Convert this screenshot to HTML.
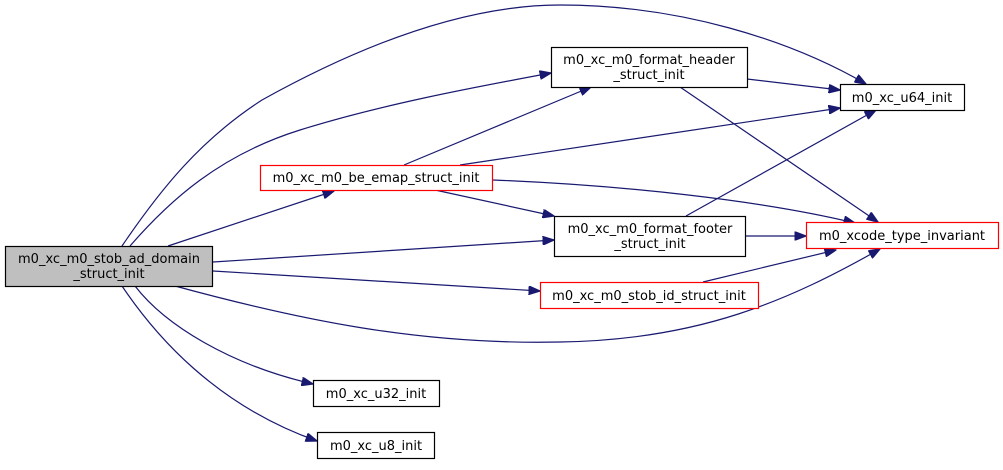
<!DOCTYPE html>
<html><head><meta charset="utf-8"><style>
body{margin:0;background:#fff;}
svg text{font-family:"DejaVu Sans","Liberation Sans",sans-serif;font-size:13px;fill:#000;}
</style></head><body>
<svg width="1003" height="465" viewBox="0 0 1003 465" xmlns="http://www.w3.org/2000/svg">
<defs>
<marker id="a" markerWidth="12" markerHeight="9" refX="11.5" refY="4.5" orient="auto" markerUnits="userSpaceOnUse">
<path d="M0,0 L12,4.5 L0,9 Z" fill="#191970" stroke="#191970"/>
</marker>
</defs>
<g fill="none" stroke="#191970" stroke-width="1.2" marker-end="url(#a)">
<path d="M122,246 C160,190 200,140 262,100 C370,40 470,5 560,5 C680,5 790,40 866,84"/>
<path d="M130,246 C170,200 220,155 300,130 C380,105 470,88 551,73"/>
<path d="M168,246 L334,191"/>
<path d="M213,262 L554,240"/>
<path d="M213,271 L540,291"/>
<path d="M175,286 C300,320 420,345 560,342 C700,340 790,300 880,249"/>
<path d="M135,286 C165,325 230,365 313,384"/>
<path d="M122,286 C155,335 215,405 317,441"/>
<path d="M404,165 L591,87"/>
<path d="M460,165 L840,108"/>
<path d="M493,180 C620,185 760,200 855,223"/>
<path d="M435,190 L554,216"/>
<path d="M747,79 L840,90"/>
<path d="M680,87 L878,222"/>
<path d="M686,216 L876,110"/>
<path d="M745,236 L806,236"/>
<path d="M703,282 L836,250"/>
</g>
<g stroke-width="1.2">
<rect x="5.5" y="246.5" width="207" height="40" fill="#bfbfbf" stroke="#000"/>
<rect x="551.5" y="47.5" width="196" height="40" fill="#fff" stroke="#000"/>
<rect x="840.5" y="84.5" width="124" height="26" fill="#fff" stroke="#000"/>
<rect x="260.5" y="165.5" width="232" height="25" fill="#fff" stroke="#ff0000"/>
<rect x="554.5" y="216.5" width="191" height="40" fill="#fff" stroke="#000"/>
<rect x="806.5" y="222.5" width="192" height="26" fill="#fff" stroke="#ff0000"/>
<rect x="540.5" y="282.5" width="218" height="26" fill="#fff" stroke="#ff0000"/>
<rect x="313.5" y="380.5" width="126" height="26" fill="#fff" stroke="#000"/>
<rect x="317.5" y="432.5" width="117" height="26" fill="#fff" stroke="#000"/>
</g>
<g text-anchor="middle">
<text x="109" y="263">m0_xc_m0_stob_ad_domain</text>
<text x="109" y="278">_struct_init</text>
<text x="649" y="64">m0_xc_m0_format_header</text>
<text x="649" y="79">_struct_init</text>
<text x="902" y="102">m0_xc_u64_init</text>
<text x="376" y="182">m0_xc_m0_be_emap_struct_init</text>
<text x="650" y="233">m0_xc_m0_format_footer</text>
<text x="650" y="248">_struct_init</text>
<text x="902" y="240">m0_xcode_type_invariant</text>
<text x="649" y="300">m0_xc_m0_stob_id_struct_init</text>
<text x="376" y="398">m0_xc_u32_init</text>
<text x="376" y="450">m0_xc_u8_init</text>
</g>
</svg>
</body></html>
